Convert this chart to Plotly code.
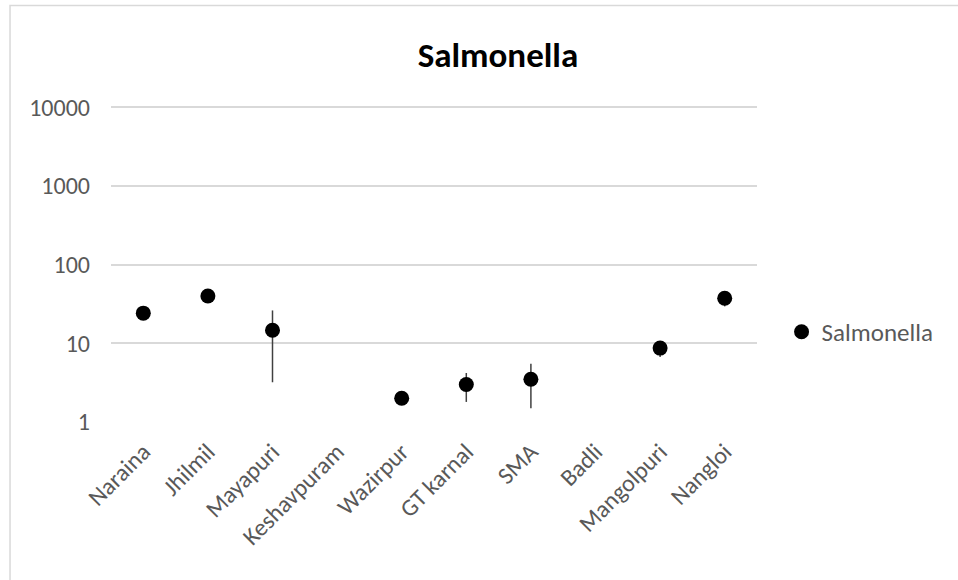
import plotly.graph_objects as go

# Sampling sites and Salmonella counts (log scale); None = not detected
sites = ["Naraina", "Jhilmil", "Mayapuri", "Keshavpuram", "Wazirpur",
         "GT karnal", "SMA", "Badli", "Mangolpuri", "Nangloi"]
salmonella = [24.2, 40.0, 14.7, None, 2.0, 3.0, 3.5, None, 8.7, 37.5]
# Symmetric error bars (standard deviation)
salmonella_err = [0, 0, 11.5, 0, 0, 1.2, 2.0, 0, 2.0, 8.0]

y_tick_vals = [1, 10, 100, 1000, 10000]
y_tick_text = ["1", "10", "100", "1000", "10000"]

FONT = "Carlito, Lato, sans-serif"
GREY = "#595959"

fig = go.Figure()
fig.add_trace(go.Scatter(
    x=sites, y=salmonella, mode="markers", name="Salmonella",
    marker=dict(color="black", size=15, line=dict(width=0)),
    error_y=dict(type="data", array=salmonella_err, visible=True,
                 color="#404040", thickness=1.5, width=0),
))

fig.update_layout(
    width=958, height=580,
    margin=dict(l=111, r=201, t=105, b=158, autoexpand=False),
    paper_bgcolor="white", plot_bgcolor="white",
    font=dict(family=FONT, color=GREY, size=24),
    title=dict(text="<b>Salmonella</b>", x=0.599, xref="paper", xanchor="center",
               y=0.905, yref="container", yanchor="middle",
               font=dict(family=FONT, size=35, color="black")),
    showlegend=True,
    legend=dict(x=1.038, y=0.284, xanchor="left", yanchor="middle",
                font=dict(family=FONT, size=25, color=GREY),
                itemwidth=30, bgcolor="rgba(0,0,0,0)"),
    xaxis=dict(type="category", range=[-0.5, 9.5], tickangle=-45,
               showgrid=False, showline=False, zeroline=False, ticks="",
               ticklabelstandoff=10,
               tickfont=dict(family=FONT, size=24, color=GREY)),
    yaxis=dict(type="log", range=[0, 4.03], tickvals=y_tick_vals, ticktext=y_tick_text,
               showgrid=True, gridcolor="#d9d9d9", gridwidth=1.5,
               showline=False, zeroline=False, ticks="", ticklabelstandoff=20,
               tickfont=dict(family=FONT, size=24, color=GREY)),
    shapes=[dict(type="rect", xref="paper", yref="paper",
                 x0=-0.1563, x1=1.6, y0=-1.0, y1=1.314,
                 line=dict(color="#d9d9d9", width=1.5), layer="below")],
)

fig.write_html("out.html")
